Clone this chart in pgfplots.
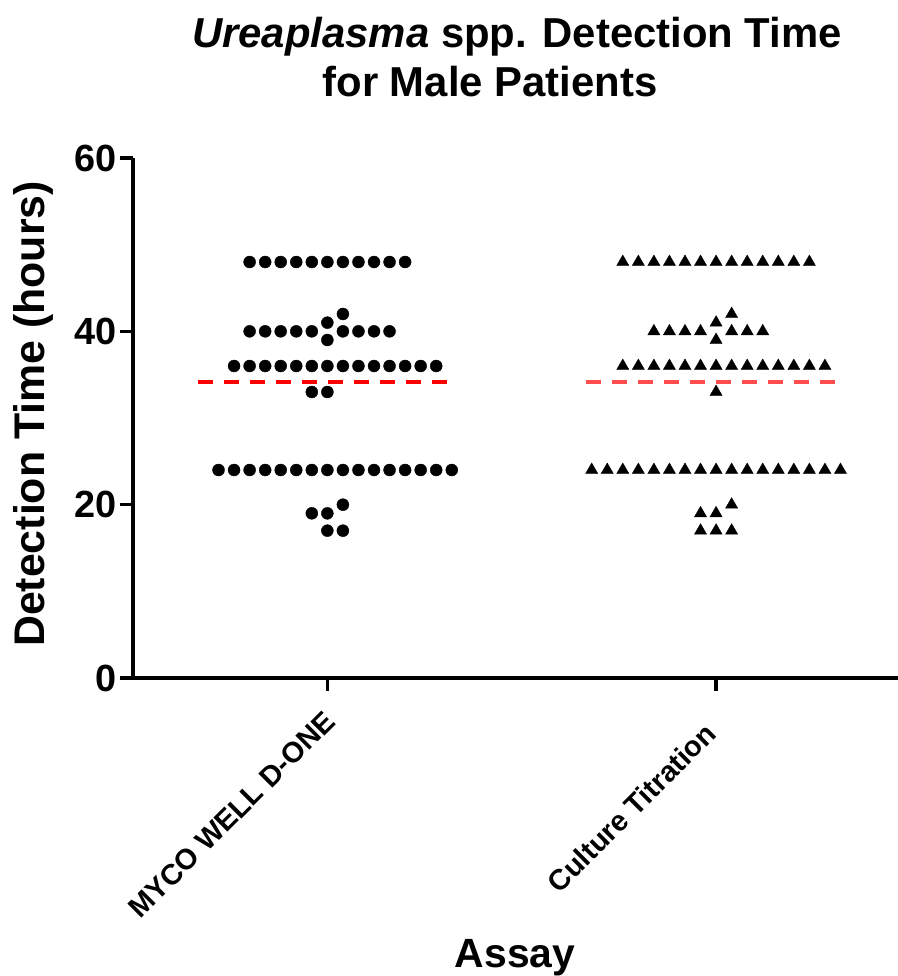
\documentclass[border=0pt]{standalone}
\usepackage{pgfplots}
\pgfplotsset{compat=1.18}
\usepackage{fontspec}
\setmainfont{Liberation Sans}
\definecolor{lightred}{RGB}{255,77,77}
\begin{document}
\begin{tikzpicture}[x=1bp,y=1bp]
\useasboundingbox (-133,-298) rectangle (765,678);
\begin{axis}[
  at={(0,0)}, anchor=south west,
  scale only axis, width=765bp, height=520bp,
  xmin=-0.5, xmax=1.468, ymin=0, ymax=60,
  axis lines*=left,
  axis line style={line width=3.5bp, black},
  xtick={0,1}, xticklabels={{},{}},
  ytick={0,20,40,60},
  tick align=outside,
  major tick length=13bp,
  tick style={line width=3.5bp, black},
  /pgf/number format/assume math mode=true,
  yticklabel style={font=\bfseries\fontsize{38}{38}\selectfont, anchor=east},
  clip=false,
]
% MYCO WELL D-ONE
\addplot[only marks, mark=*, mark size=6bp, black] coordinates {
(-0.20,48) (-0.16,48) (-0.12,48) (-0.08,48) (-0.04,48) (0,48) (0.04,48) (0.08,48) (0.12,48) (0.16,48) (0.20,48)
(-0.20,40) (-0.16,40) (-0.12,40) (-0.08,40) (-0.04,40) (0.04,40) (0.08,40) (0.12,40) (0.16,40)
(0,41) (0,39) (0.04,42)
(-0.24,36) (-0.20,36) (-0.16,36) (-0.12,36) (-0.08,36) (-0.04,36) (0,36) (0.04,36) (0.08,36) (0.12,36) (0.16,36) (0.20,36) (0.24,36) (0.28,36)
(-0.04,33) (0,33)
(-0.28,24) (-0.24,24) (-0.20,24) (-0.16,24) (-0.12,24) (-0.08,24) (-0.04,24) (0,24) (0.04,24) (0.08,24) (0.12,24) (0.16,24) (0.20,24) (0.24,24) (0.28,24) (0.32,24)
(-0.04,19) (0,19) (0.04,20)
(0,17) (0.04,17)
};
% Culture Titration
\addplot[only marks, mark=triangle*, mark size=7bp, black] coordinates {
(0.76,48) (0.80,48) (0.84,48) (0.88,48) (0.92,48) (0.96,48) (1,48) (1.04,48) (1.08,48) (1.12,48) (1.16,48) (1.20,48) (1.24,48)
(0.84,40) (0.88,40) (0.92,40) (0.96,40) (1.04,40) (1.08,40) (1.12,40)
(1,41) (1,39) (1.04,42)
(0.76,36) (0.80,36) (0.84,36) (0.88,36) (0.92,36) (0.96,36) (1,36) (1.04,36) (1.08,36) (1.12,36) (1.16,36) (1.20,36) (1.24,36) (1.28,36)
(1,33)
(0.68,24) (0.72,24) (0.76,24) (0.80,24) (0.84,24) (0.88,24) (0.92,24) (0.96,24) (1,24) (1.04,24) (1.08,24) (1.12,24) (1.16,24) (1.20,24) (1.24,24) (1.28,24) (1.32,24)
(0.96,19) (1,19) (1.04,20)
(0.96,17) (1,17) (1.04,17)
};
\addplot[red, line width=4bp, dash pattern=on 15bp off 11bp] coordinates {(-0.334,34.1) (0.334,34.1)};
\addplot[lightred, line width=4bp, dash pattern=on 15bp off 11bp] coordinates {(0.666,34.1) (1.334,34.1)};
\node[anchor=east, rotate=45, font=\bfseries\fontsize{29}{29}\selectfont] at ([shift={(5bp,-36bp)}]axis cs:0,0) {MYCO WELL D-ONE};
\node[anchor=east, rotate=45, font=\bfseries\fontsize{29}{29}\selectfont] at ([shift={(-3bp,-48bp)}]axis cs:1,0) {Culture Titration};
\end{axis}
\node[anchor=base, font=\bfseries\fontsize{42}{42}\selectfont] at (384,630) {\textit{Ureaplasma} spp. Detection Time};
\node[anchor=base, font=\bfseries\fontsize{42}{42}\selectfont] at (357,581) {for Male Patients};
\node[rotate=90, font=\bfseries\fontsize{43}{43}\selectfont] at (-100,264) {Detection Time (hours)};
\node[anchor=base, font=\bfseries\fontsize{41}{41}\selectfont] at (382,-289) {Assay};
\end{tikzpicture}
\end{document}
